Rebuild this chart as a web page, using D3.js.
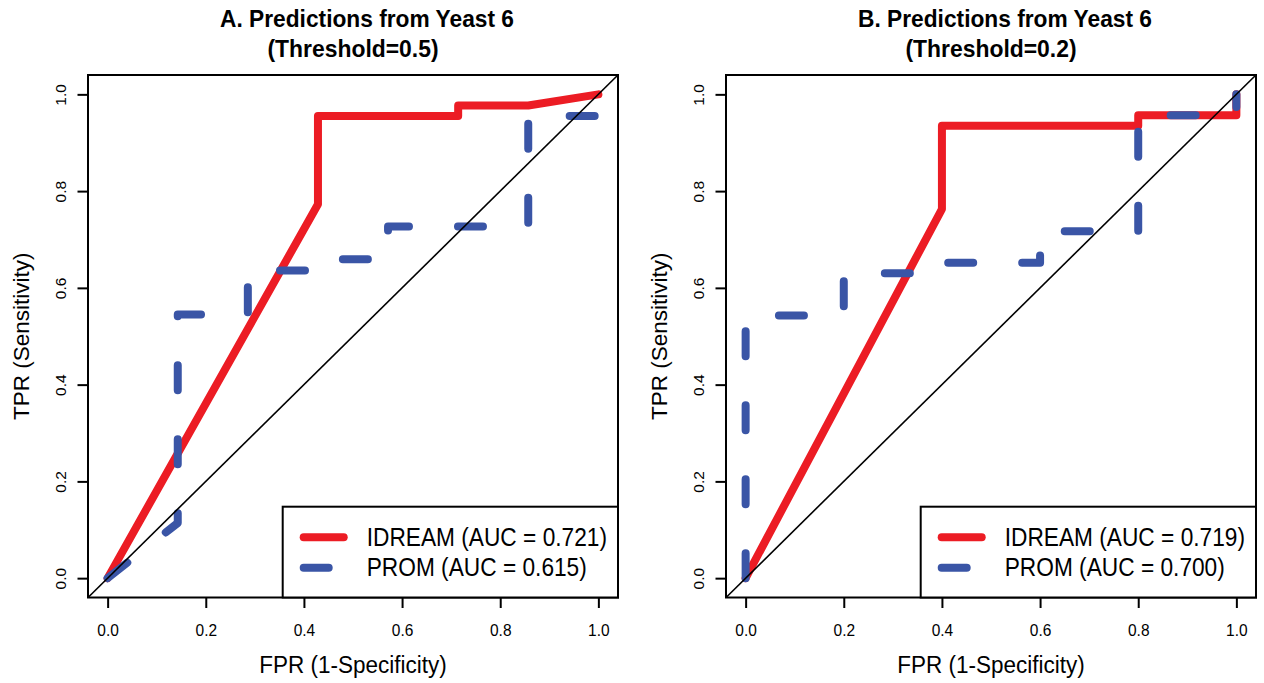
<!DOCTYPE html>
<html>
<head>
<meta charset="utf-8">
<script src="https://cdn.jsdelivr.net/npm/d3@7"></script>
<style>
  body { margin: 0; background: #fff; }
  svg { display: block; }
  text { font-family: "Liberation Sans", Arial, sans-serif; fill: #000; }
</style>
</head>
<body>
<svg id="chart" width="1264" height="683"></svg>
<script>
// ROC curves (FPR steps of 1/7 and 1/5)
const tickValues = [0, 0.2, 0.4, 0.6, 0.8, 1.0];
const tickLabels = ["0.0", "0.2", "0.4", "0.6", "0.8", "1.0"];

const panelTitles = ["A. Predictions from Yeast 6", "B. Predictions from Yeast 6"];
const panelSubtitles = ["(Threshold=0.5)", "(Threshold=0.2)"];
const xLabel = "FPR (1-Specificity)";
const yLabel = "TPR (Sensitivity)";

const seriesNames = ["IDREAM", "PROM"];
const aucA = ["0.721", "0.615"];
const aucB = ["0.719", "0.700"];

const idreamA_fpr = [0, 0.4286, 0.4286, 0.7143, 0.7143, 0.8571, 1.0];
const idreamA_tpr = [0, 0.773, 0.955, 0.955, 0.977, 0.977, 1.0];
const promA_fpr = [0, 0.1429, 0.1429, 0.2857, 0.2857, 0.4286, 0.4286, 0.5714, 0.5714, 0.8571, 0.8571, 1.0, 1.0];
const promA_tpr = [0, 0.114, 0.545, 0.545, 0.636, 0.636, 0.659, 0.659, 0.727, 0.727, 0.955, 0.955, 1.0];

const idreamB_fpr = [0, 0.4, 0.4, 0.8, 0.8, 1.0, 1.0];
const idreamB_tpr = [0, 0.763, 0.935, 0.935, 0.957, 0.957, 1.0];
const promB_fpr = [0, 0, 0.2, 0.2, 0.4, 0.4, 0.6, 0.6, 0.8, 0.8, 1.0, 1.0];
const promB_tpr = [0, 0.543, 0.543, 0.630, 0.630, 0.652, 0.652, 0.717, 0.717, 0.957, 0.957, 1.0];

const RED = "#ec1c24";
const BLUE = "#3a55a6";
const STRETCH = 1.1; // text in the picture is a bit tall

const panels = [
  {left: 88, title: panelTitles[0], sub: panelSubtitles[0], auc: aucA,
   red: [idreamA_fpr, idreamA_tpr], blue: [promA_fpr, promA_tpr]},
  {left: 726, title: panelTitles[1], sub: panelSubtitles[1], auc: aucB,
   red: [idreamB_fpr, idreamB_tpr], blue: [promB_fpr, promB_tpr]}
];

const W = 530, TOP = 75, BOTTOM = 597.5;
const svg = d3.select("#chart");

function tall(x, y) {
  return "translate(" + x + "," + y + ") scale(1," + STRETCH + ")";
}

panels.forEach(function(p, i) {
  const x = d3.scaleLinear().domain([-0.04, 1.04]).range([p.left, p.left + W]);
  const y = d3.scaleLinear().domain([-0.04, 1.04]).range([BOTTOM, TOP]);
  const g = svg.append("g");
  const cx = p.left + W / 2;

  // clip to the plot box
  g.append("clipPath").attr("id", "clip" + i)
    .append("rect").attr("x", p.left).attr("y", TOP)
    .attr("width", W).attr("height", BOTTOM - TOP);

  const line = d3.line().x(d => x(d[0])).y(d => y(d[1]));
  const plot = g.append("g").attr("clip-path", "url(#clip" + i + ")");

  plot.append("path")
    .datum(d3.zip(p.red[0], p.red[1]))
    .attr("d", line)
    .attr("fill", "none").attr("stroke", RED).attr("stroke-width", 8)
    .attr("stroke-linejoin", "round").attr("stroke-linecap", "round");

  plot.append("path")
    .datum(d3.zip(p.blue[0], p.blue[1]))
    .attr("d", line)
    .attr("fill", "none").attr("stroke", BLUE).attr("stroke-width", 8)
    .attr("stroke-dasharray", "25,49")
    .attr("stroke-linejoin", "round").attr("stroke-linecap", "round");

  // reference diagonal
  plot.append("path")
    .datum([[-0.04, -0.04], [1.04, 1.04]])
    .attr("d", line)
    .attr("fill", "none").attr("stroke", "#000").attr("stroke-width", 1.6);

  // axes
  const xAxis = g.append("g").attr("transform", "translate(0," + BOTTOM + ")")
    .call(d3.axisBottom(x).tickValues(tickValues).tickSize(10.5)
      .tickFormat((d, k) => tickLabels[k]));
  xAxis.select(".domain").remove();
  xAxis.selectAll("line").attr("stroke", "#000").attr("stroke-width", 2);
  xAxis.selectAll("text").attr("y", null).attr("dy", null)
    .attr("transform", tall(0, 38))
    .style("font-size", "15.5px").style("font-family", "Liberation Sans, Arial, sans-serif");

  const yAxis = g.append("g").attr("transform", "translate(" + p.left + ",0)")
    .call(d3.axisLeft(y).tickValues(tickValues).tickSize(10.5)
      .tickFormat((d, k) => tickLabels[k]));
  yAxis.select(".domain").remove();
  yAxis.selectAll("line").attr("stroke", "#000").attr("stroke-width", 2);
  yAxis.selectAll("text")
    .attr("x", null).attr("dy", null)
    .attr("text-anchor", "middle")
    .attr("transform", "translate(-22.4,0) rotate(-90)")
    .style("font-size", "15.5px").style("font-family", "Liberation Sans, Arial, sans-serif");

  // box
  g.append("rect").attr("x", p.left).attr("y", TOP)
    .attr("width", W).attr("height", BOTTOM - TOP)
    .attr("fill", "none").attr("stroke", "#000").attr("stroke-width", 2);

  // titles
  g.append("text").attr("transform", tall(p.left + 132, 27))
    .attr("font-weight", "bold").style("font-size", "21.5px")
    .attr("textLength", 294).attr("lengthAdjust", "spacingAndGlyphs")
    .text(p.title);
  g.append("text").attr("transform", tall(cx, 57)).attr("text-anchor", "middle")
    .attr("font-weight", "bold").style("font-size", "21.5px")
    .attr("textLength", 171).attr("lengthAdjust", "spacingAndGlyphs")
    .text(p.sub);

  // axis titles
  g.append("text").attr("transform", tall(cx, 673)).attr("text-anchor", "middle")
    .style("font-size", "22.5px").text(xLabel);
  g.append("text").attr("text-anchor", "middle")
    .attr("transform", "translate(" + (p.left - 59) + "," + ((TOP + BOTTOM) / 2) + ") rotate(-90)")
    .style("font-size", "22.5px").text(yLabel);

  // legend
  const lw = 335.3, lx = p.left + W - lw, ly = 506.7;
  const leg = g.append("g");
  leg.append("rect").attr("x", lx).attr("y", ly)
    .attr("width", lw).attr("height", BOTTOM - ly)
    .attr("fill", "#fff").attr("stroke", "#000").attr("stroke-width", 2);
  const rows = [
    {name: seriesNames[0], auc: p.auc[0], color: RED, dash: null},
    {name: seriesNames[1], auc: p.auc[1], color: BLUE, dash: "25,49"}
  ];
  rows.forEach(function(r, k) {
    const yy = 537.3 + k * 30.4;
    leg.append("line").attr("x1", lx + 21).attr("x2", lx + 61)
      .attr("y1", yy).attr("y2", yy)
      .attr("stroke", r.color).attr("stroke-width", 8)
      .attr("stroke-linecap", "round")
      .attr("stroke-dasharray", r.dash);
    leg.append("text").attr("transform", tall(lx + 84, yy + 8.5))
      .style("font-size", "22.7px")
      .text(r.name + " (AUC = " + r.auc + ")");
  });
});
</script>
</body>
</html>
